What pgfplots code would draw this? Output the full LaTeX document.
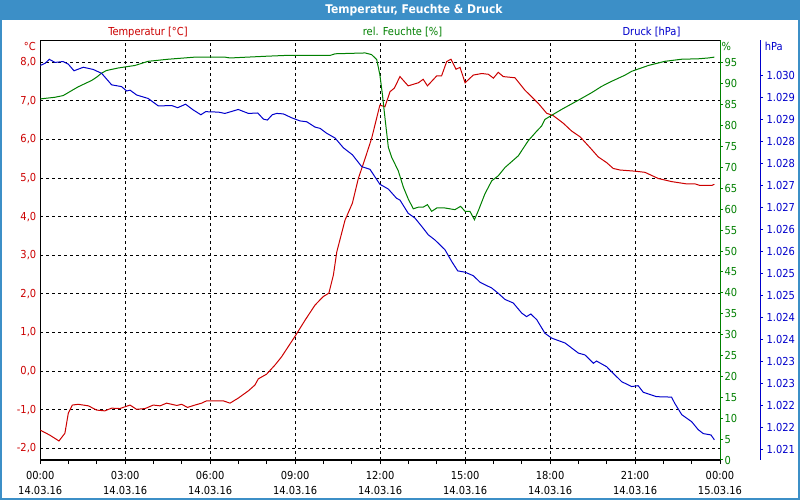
\documentclass[border=0pt]{standalone}
\usepackage{pgfplots}
\pgfplotsset{compat=1.18}
\usepackage{fontspec}
\setmainfont{DejaVu Sans Condensed}
\definecolor{tred}{RGB}{204,0,0}
\definecolor{hgreen}{RGB}{0,128,0}
\definecolor{pblue}{RGB}{0,0,204}
\definecolor{barblue}{RGB}{60,143,199}
\newcommand{\lf}{\fontsize{8.25}{11.25}\selectfont}
\begin{document}
\begin{tikzpicture}
\useasboundingbox (0,0) rectangle (600pt,375pt);
\fill[white] (0,0) rectangle (600pt,375pt);
\fill[barblue] (0,360pt) rectangle (600pt,375pt);
\draw[barblue, line width=1.5pt] (0.75pt,0.75pt) rectangle (599.25pt,374.25pt);
\node[text=white, font=\bfseries\fontsize{9}{11}\selectfont] at (310.5pt,367.5pt) {Temperatur, Feuchte \& Druck};
\node[text=tred, font=\lf] at (111pt,351pt) {Temperatur [°C]};
\node[text=hgreen, font=\lf] at (301.9pt,351pt) {rel. Feuchte [\%]};
\node[text=pblue, font=\lf] at (488.6pt,351pt) {Druck [hPa]};
\node[text=tred, font=\lf, anchor=east, inner sep=0pt] at (27pt,340.5pt) {°C};
\node[text=hgreen, font=\lf, anchor=west, inner sep=0pt] at (541.1pt,340.5pt) {\%};
\node[text=pblue, font=\lf, anchor=west, inner sep=0pt] at (573.4pt,340.5pt) {hPa};

% Temperature axis
\begin{axis}[
  at={(30.2pt,30pt)}, anchor=south west, scale only axis,
  width=509.8pt, height=315pt,
  xmin=0, xmax=24, ymin=-2.303, ymax=8.578,
  xtick={0,3,6,9,12,15,18,21,24}, minor x tick num=2,
  xticklabels={{00:00\\14.03.16},{03:00\\14.03.16},{06:00\\14.03.16},{09:00\\14.03.16},{12:00\\14.03.16},{15:00\\14.03.16},{18:00\\14.03.16},{21:00\\14.03.16},{00:00\\15.03.16}},
  ytick={-2,-1,0,1,2,3,4,5,6,7,8},
  yticklabels={{-2,0},{-1,0},{0,0},{1,0},{2,0},{3,0},{4,0},{5,0},{6,0},{7,0},{8,0}},
  grid=major,
  major grid style={black, dash pattern=on 2.25pt off 2.25pt, line width=0.75pt},
  tick align=outside, xtick pos=bottom,
  ytick style={draw=none},
  xtick style={black, line width=0.75pt},
  major tick length=3pt, minor tick length=3pt,
  axis line style={black, line width=0.75pt},
  xticklabel style={font=\lf, align=center, text=black, yshift=-2pt},
  yticklabel style={font=\lf, text=tred, xshift=3.5pt},
  clip=true,
]
\addplot[tred, line width=0.75pt] coordinates {
(0,-1.53) (0.34,-1.66) (0.66,-1.81) (0.87,-1.61) (0.99,-1.09) (1.13,-0.88) (1.34,-0.86) (1.70,-0.90) (1.99,-1.01) (2.28,-1.03) (2.52,-0.96) (2.81,-0.97) (3.17,-0.88) (3.40,-0.99) (3.70,-0.97) (3.99,-0.88) (4.23,-0.90) (4.46,-0.83) (4.82,-0.89) (4.99,-0.86) (5.20,-0.94) (5.46,-0.88) (5.70,-0.83) (5.87,-0.77) (6.46,-0.77) (6.70,-0.83) (6.99,-0.70) (7.35,-0.51) (7.58,-0.36) (7.70,-0.20) (7.99,-0.08) (8.29,0.16) (8.52,0.37) (9.02,0.93) (9.35,1.32) (9.70,1.71) (9.99,1.93) (10.19,2.02) (10.35,2.49) (10.47,3.09) (10.76,3.91) (11.02,4.35) (11.23,4.99) (11.47,5.51) (11.70,6.03) (11.99,6.89) (12.17,6.85) (12.35,7.24) (12.50,7.33) (12.70,7.63) (12.99,7.39) (13.35,7.47) (13.52,7.56) (13.67,7.39) (14.00,7.65) (14.17,7.65) (14.35,8.02) (14.50,8.08) (14.68,7.82) (14.82,7.87) (15.00,7.47) (15.29,7.67) (15.59,7.71) (15.82,7.69) (16.00,7.59) (16.17,7.74) (16.35,7.63) (16.76,7.60) (17.11,7.28) (17.58,6.94) (17.88,6.68) (18.11,6.62) (18.47,6.42) (18.76,6.22) (19.06,6.07) (19.41,5.79) (19.70,5.55) (20.00,5.40) (20.23,5.25) (20.47,5.21) (21.00,5.18) (21.35,5.15) (21.82,4.99) (22.29,4.91) (22.82,4.85) (23.12,4.85) (23.29,4.81) (23.71,4.81) (23.80,4.84)
};
\end{axis}

% Humidity axis
\begin{axis}[
  at={(30.2pt,30pt)}, anchor=south west, scale only axis,
  width=509.8pt, height=315pt,
  xmin=0, xmax=24, ymin=0, ymax=100.5,
  axis x line=none, axis y line*=right,
  ytick={0,5,...,95},
  /pgf/number format/assume math mode=true,
  tick align=outside, major tick length=2.25pt,
  y axis line style={-, hgreen, line width=0.75pt},
  ytick style={hgreen, line width=0.75pt},
  yticklabel style={font=\lf, text=hgreen, inner sep=1pt},
]
\addplot[hgreen, line width=0.75pt] coordinates {
(0,86.4) (0.52,86.8) (0.81,87.2) (1.11,88.4) (1.34,89.3) (1.81,90.8) (1.99,91.6) (2.17,92.6) (2.34,93.2) (2.75,93.8) (3.34,94.4) (3.81,95.4) (4.52,95.9) (5.46,96.4) (6.52,96.4) (6.70,96.2) (7.93,96.6) (8.64,96.8) (10.23,96.8) (10.41,97.2) (11.47,97.4) (11.70,97.0) (11.88,95.8) (11.99,92.2) (12.08,87.5) (12.17,81.9) (12.29,74.8) (12.41,72.4) (12.64,69.2) (12.82,65.3) (12.99,62.5) (13.17,60.1) (13.35,60.5) (13.52,60.5) (13.67,61.1) (13.82,59.5) (14.00,60.3) (14.29,60.3) (14.64,59.9) (14.84,60.7) (15.00,59.5) (15.17,59.5) (15.33,57.5) (15.47,59.7) (15.70,63.7) (15.94,66.8) (16.17,68.0) (16.41,70.0) (16.88,72.8) (17.23,76.4) (17.53,78.7) (17.70,79.9) (17.82,81.5) (18.06,82.5) (18.41,83.9) (19.00,86.1) (19.47,87.9) (19.82,89.4) (20.17,90.6) (20.65,92.1) (20.88,93.0) (21.47,94.4) (22.06,95.4) (22.65,95.9) (23.23,96.0) (23.59,96.2) (23.80,96.4)
};
\end{axis}

% Pressure axis (y line 40 px to the right of the plot)
\begin{axis}[
  at={(30.2pt,30pt)}, anchor=south west, scale only axis,
  width=539.8pt, height=315pt,
  xmin=0, xmax=25.4118, ymin=1020.75, ymax=1030.3,
  axis x line=none, axis y line*=right,
  ytick={1021,1021.5,1022,1022.5,1023,1023.5,1024,1024.5,1025,1025.5,1026,1026.5,1027,1027.5,1028,1028.5,1029,1029.5},
  yticklabels={1.021,1.022,1.022,1.023,1.023,1.024,1.024,1.025,1.025,1.026,1.026,1.027,1.027,1.028,1.028,1.029,1.029,1.030},
  tick align=outside, major tick length=2.25pt,
  y axis line style={-, pblue, line width=0.75pt},
  ytick style={pblue, line width=0.75pt},
  yticklabel style={font=\lf, text=pblue, inner sep=1pt, xshift=1.5pt},
]
\addplot[pblue, line width=0.75pt] coordinates {
(0,1029.72) (0.17,1029.77) (0.32,1029.86) (0.52,1029.79) (0.81,1029.81) (0.99,1029.75) (1.19,1029.60) (1.52,1029.68) (1.87,1029.63) (2.17,1029.54) (2.52,1029.28) (2.87,1029.24) (3.05,1029.14) (3.17,1029.16) (3.40,1029.05) (3.81,1028.97) (4.17,1028.80) (4.64,1028.81) (4.85,1028.76) (5.13,1028.84) (5.40,1028.71) (5.67,1028.60) (5.84,1028.67) (6.29,1028.66) (6.52,1028.63) (6.99,1028.72) (7.35,1028.63) (7.68,1028.64) (7.88,1028.50) (8.02,1028.48) (8.19,1028.60) (8.35,1028.63) (8.58,1028.62) (8.88,1028.53) (9.17,1028.46) (9.41,1028.44) (9.70,1028.32) (9.88,1028.29) (10.11,1028.18) (10.41,1028.07) (10.70,1027.85) (11.02,1027.69) (11.35,1027.42) (11.64,1027.36) (11.99,1027.02) (12.29,1026.91) (12.58,1026.70) (12.70,1026.66) (12.99,1026.36) (13.23,1026.25) (13.47,1026.06) (13.70,1025.87) (13.94,1025.75) (14.29,1025.53) (14.53,1025.26) (14.74,1025.05) (15.00,1025.02) (15.29,1024.94) (15.53,1024.79) (15.94,1024.66) (16.17,1024.54) (16.41,1024.40) (16.70,1024.32) (17.00,1024.09) (17.17,1024.01) (17.32,1024.07) (17.53,1023.94) (17.82,1023.63) (18.06,1023.52) (18.53,1023.41) (19.00,1023.18) (19.23,1023.14) (19.53,1022.95) (19.64,1023.00) (20.00,1022.87) (20.23,1022.72) (20.53,1022.53) (20.88,1022.42) (21.11,1022.44) (21.29,1022.29) (21.76,1022.19) (22.29,1022.18) (22.40,1022.04) (22.65,1021.78) (23.00,1021.62) (23.23,1021.44) (23.41,1021.35) (23.68,1021.32) (23.80,1021.21)
};
\end{axis}
\end{tikzpicture}
\end{document}
